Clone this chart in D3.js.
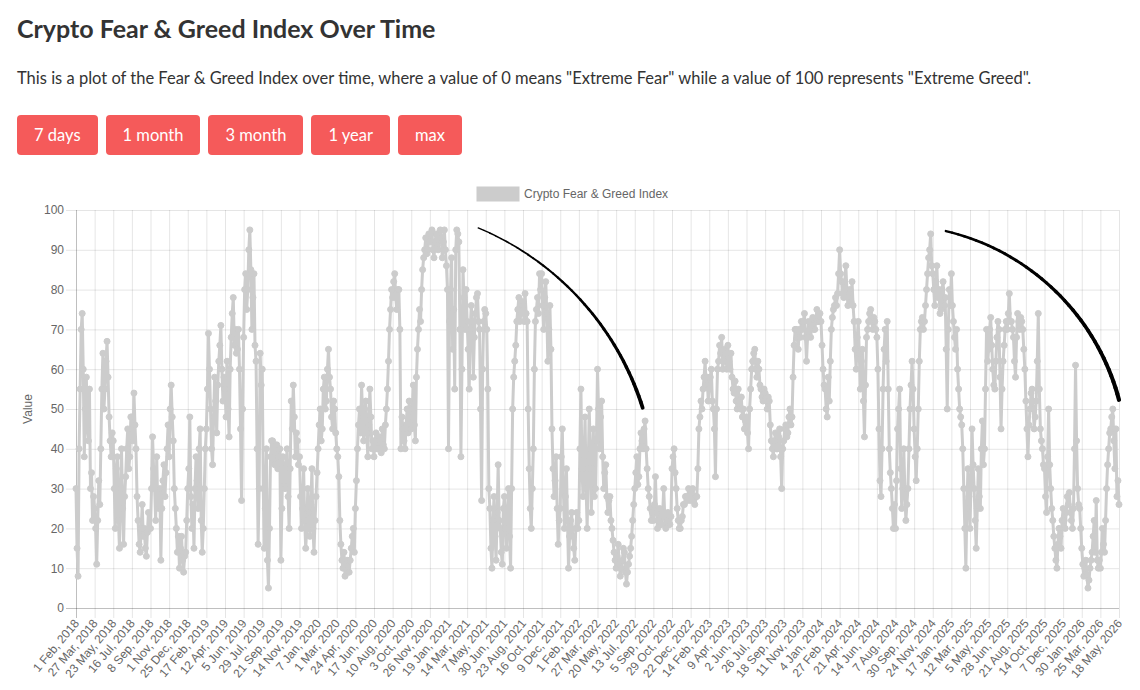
<!DOCTYPE html>
<html>
<head>
<meta charset="utf-8">
<script src="https://cdnjs.cloudflare.com/ajax/libs/d3/7.8.5/d3.min.js"></script>
<style>
body { margin: 0; background: #fff; font-family: Lato, "Open Sans", sans-serif; color: #333; }
h2 { position: absolute; left: 17px; top: 13px; margin: 0; font-size: 25px; line-height: 30px; font-weight: 700; color: #333; }
p.desc { position: absolute; left: 17px; top: 68px; margin: 0; font-size: 16.5px; line-height: 20px; color: #333; }
.btns { position: absolute; left: 17px; top: 115px; }
.btns button { float: left; height: 40px; margin-right: 8px; padding: 0 17px; border: 0; border-radius: 4px;
  background: #f55a5a; color: #fff; font-family: Lato, "Open Sans", sans-serif; font-size: 16.5px; }
#chart { position: absolute; left: 0; top: 0; }
#chart text { font-family: "Liberation Sans", Arial, sans-serif; fill: #666; font-size: 12px; }
</style>
</head>
<body>
<h2>Crypto Fear &amp; Greed Index Over Time</h2>
<p class="desc">This is a plot of the Fear &amp; Greed Index over time, where a value of 0 means "Extreme Fear" while a value of 100 represents "Extreme Greed".</p>
<div class="btns"><button>7 days</button><button>1 month</button><button>3 month</button><button>1 year</button><button>max</button></div>
<svg id="chart" width="1140" height="690"></svg>
<script>
// x axis labels, one every 54 daily readings
var tickLabels = ["1 Feb, 2018", "27 Mar, 2018", "23 May, 2018", "16 Jul, 2018", "8 Sep, 2018", "1 Nov, 2018", "25 Dec, 2018",
	"17 Feb, 2019", "12 Apr, 2019", "5 Jun, 2019", "29 Jul, 2019", "21 Sep, 2019", "14 Nov, 2019",
	"7 Jan, 2020", "1 Mar, 2020", "24 Apr, 2020", "17 Jun, 2020", "10 Aug, 2020", "3 Oct, 2020", "26 Nov, 2020",
	"19 Jan, 2021", "14 Mar, 2021", "7 May, 2021", "30 Jun, 2021", "23 Aug, 2021", "16 Oct, 2021", "9 Dec, 2021",
	"1 Feb, 2022", "27 Mar, 2022", "20 May, 2022", "13 Jul, 2022", "5 Sep, 2022", "29 Oct, 2022", "22 Dec, 2022",
	"14 Feb, 2023", "9 Apr, 2023", "2 Jun, 2023", "26 Jul, 2023", "18 Sep, 2023", "11 Nov, 2023",
	"4 Jan, 2024", "27 Feb, 2024", "21 Apr, 2024", "14 Jun, 2024", "7 Aug, 2024", "30 Sep, 2024", "24 Nov, 2024",
	"17 Jan, 2025", "12 Mar, 2025", "5 May, 2025", "28 Jun, 2025", "21 Aug, 2025", "14 Oct, 2025", "7 Dec, 2025",
	"30 Jan, 2026", "25 Mar, 2026", "18 May, 2026"];
var labelStep = 54;   // readings between two labels
var sampleStep = 3;   // readings between two values below

var yTicks = [0, 10, 20, 30, 40, 50, 60, 70, 80, 90, 100];

// index value, one every 3 readings (one row = one label interval)
var fearGreed = [
	30, 15, 8, 40, 55, 70, 74, 60, 38, 50, 58, 45, 42, 55, 30, 34, 22, 28,
	25, 20, 11, 22, 32, 26, 40, 55, 64, 50, 55, 62, 67, 58, 48, 42, 38, 44,
	42, 30, 20, 35, 38, 22, 15, 30, 40, 25, 16, 28, 33, 40, 45, 35, 38, 48,
	48, 42, 54, 46, 40, 28, 22, 16, 14, 20, 26, 18, 20, 15, 13, 19, 24, 20,
	20, 30, 43, 35, 30, 22, 38, 26, 25, 30, 12, 25, 32, 36, 28, 34, 40, 46,
	38, 50, 56, 48, 42, 30, 25, 20, 14, 18, 10, 15, 18, 12, 9, 13, 14, 22,
	30, 35, 48, 28, 20, 26, 15, 30, 38, 32, 25, 40, 45, 22, 14, 20, 30, 40,
	45, 55, 69, 60, 50, 40, 36, 48, 58, 52, 44, 56, 62, 66, 71, 60, 52, 58,
	55, 48, 62, 50, 43, 60, 68, 74, 78, 66, 70, 64, 65, 70, 60, 45, 27, 50,
	68, 80, 84, 75, 80, 90, 95, 85, 70, 78, 84, 66, 62, 40, 16, 30, 64, 56,
	60, 30, 15, 25, 40, 12, 5, 20, 38, 42, 42, 37, 36, 40, 41, 35, 38, 40,
	12, 25, 38, 32, 30, 36, 40, 28, 20, 35, 52, 45, 56, 48, 38, 44, 42, 36,
	38, 28, 20, 25, 35, 22, 15, 20, 30, 24, 18, 26, 35, 20, 14, 22, 28, 34,
	40, 46, 50, 42, 45, 55, 58, 50, 52, 60, 65, 58, 55, 48, 45, 52, 50, 44,
	40, 38, 33, 22, 16, 12, 10, 14, 8, 11, 12, 9, 9, 12, 15, 18, 20, 14,
	25, 32, 40, 46, 50, 44, 56, 48, 42, 50, 52, 44, 38, 46, 55, 48, 40, 42,
	38, 42, 44, 40, 40, 43, 42, 39, 45, 41, 40, 46, 50, 55, 62, 70, 75, 80,
	78, 82, 84, 78, 75, 80, 80, 70, 40, 48, 45, 42, 40, 46, 50, 44, 52, 48,
	45, 50, 56, 46, 42, 58, 65, 70, 75, 72, 80, 85, 88, 90, 93, 89, 90, 94,
	92, 94, 95, 90, 88, 92, 94, 91, 90, 94, 95, 93, 88, 92, 95, 90, 86, 80,
	40, 72, 80, 88, 65, 75, 55, 90, 95, 94, 92, 70, 38, 60, 85, 78, 70, 80,
	72, 65, 55, 70, 76, 72, 58, 68, 74, 78, 79, 72, 70, 50, 27, 60, 72, 75,
	74, 70, 55, 30, 25, 15, 10, 22, 28, 18, 12, 24, 36, 22, 20, 14, 11, 25,
	28, 20, 15, 25, 30, 18, 10, 30, 50, 58, 62, 66, 72, 75, 78, 72, 74, 77,
	76, 72, 79, 74, 72, 50, 35, 25, 20, 30, 40, 60, 72, 75, 78, 74, 84, 80,
	84, 76, 70, 78, 82, 74, 62, 70, 76, 65, 45, 35, 28, 32, 38, 25, 16, 22,
	25, 38, 45, 30, 20, 28, 35, 22, 10, 18, 22, 24, 18, 15, 12, 20, 24, 20,
	22, 40, 55, 35, 28, 38, 48, 30, 20, 35, 50, 40, 24, 35, 45, 28, 30, 42,
	60, 50, 40, 48, 52, 38, 30, 34, 36, 28, 24, 27, 28, 22, 20, 17, 14, 12,
	10, 13, 16, 11, 8, 10, 12, 15, 14, 9, 6, 9, 11, 13, 15, 18, 22, 26,
	30, 34, 38, 31, 33, 40, 44, 42, 40, 45, 47, 40, 35, 30, 28, 25, 22, 24,
	22, 26, 33, 24, 20, 22, 25, 21, 21, 24, 30, 23, 20, 22, 24, 21, 21, 23,
	35, 38, 40, 34, 30, 25, 22, 20, 20, 22, 23, 26, 26, 28, 28, 27, 30, 28,
	27, 29, 30, 27, 26, 28, 28, 35, 45, 48, 52, 50, 55, 58, 62, 56, 58, 52,
	55, 58, 60, 52, 50, 45, 33, 50, 60, 62, 66, 64, 68, 60, 62, 65, 64, 60,
	66, 62, 60, 64, 58, 55, 54, 57, 52, 50, 55, 52, 50, 53, 48, 50, 45, 47,
	48, 44, 40, 50, 55, 60, 62, 64, 65, 60, 58, 62, 60, 56, 55, 53, 52, 55,
	54, 52, 50, 53, 52, 46, 42, 40, 38, 42, 44, 40, 40, 43, 45, 38, 30, 40,
	42, 45, 46, 43, 44, 48, 50, 46, 48, 58, 66, 70, 70, 68, 65, 70, 68, 72,
	70, 72, 74, 68, 62, 68, 72, 70, 68, 71, 73, 70, 70, 72, 75, 72, 72, 74,
	72, 66, 60, 56, 55, 50, 48, 58, 52, 62, 70, 73, 75, 76, 78, 76, 79, 84,
	90, 84, 82, 79, 78, 82, 86, 80, 76, 79, 80, 77, 82, 76, 72, 65, 60, 68,
	72, 64, 55, 62, 65, 52, 43, 56, 68, 70, 72, 74, 75, 72, 70, 73, 72, 70,
	68, 60, 45, 32, 28, 40, 55, 65, 70, 62, 72, 55, 40, 34, 30, 25, 20, 26,
	20, 32, 45, 50, 55, 35, 25, 30, 40, 30, 22, 26, 30, 40, 50, 56, 62, 55,
	45, 38, 32, 40, 50, 62, 70, 72, 73, 70, 72, 76, 80, 84, 88, 90, 94, 86,
	84, 80, 76, 82, 86, 78, 80, 74, 75, 80, 82, 76, 78, 65, 50, 70, 80, 76,
	84, 76, 72, 68, 65, 70, 60, 55, 50, 48, 46, 40, 30, 20, 10, 25, 35, 28,
	20, 32, 45, 36, 30, 22, 15, 25, 35, 28, 25, 40, 47, 36, 40, 55, 70, 62,
	65, 70, 73, 66, 60, 56, 55, 62, 68, 72, 70, 58, 45, 55, 62, 66, 70, 72,
	70, 74, 79, 72, 72, 70, 68, 62, 58, 68, 74, 72, 70, 73, 72, 70, 65, 60,
	52, 45, 38, 46, 50, 54, 55, 50, 45, 48, 52, 62, 74, 55, 45, 42, 40, 36,
	35, 28, 24, 38, 50, 36, 30, 25, 22, 18, 15, 12, 10, 16, 20, 18, 15, 22,
	25, 22, 20, 24, 28, 26, 29, 24, 22, 20, 25, 40, 61, 42, 30, 26, 25, 20,
	15, 11, 8, 10, 12, 8, 5, 7, 10, 12, 14, 18, 22, 14, 27, 12, 10, 12,
	10, 14, 20, 16, 14, 22, 30, 36, 40, 44, 45, 48, 50, 42, 35, 45, 28, 32,
	26
];

// hand drawn arcs: [reading index, value] of start and end
var arrowStarts = [[1166, 95.5], [2522, 94.7]];
var arrowEnds = [[1643, 50.3], [3024, 52.3]];

var plotLeft = 76, plotRight = 1119, plotTop = 210, plotBottom = 608;
var gridColor = "rgba(0,0,0,0.1)";
var zeroColor = "rgba(0,0,0,0.25)";
var lineColor = "#cccccc";

var svg = d3.select("#chart");

var lastIndex = (tickLabels.length-1)*labelStep;
var x = d3.scaleLinear().domain([0, lastIndex]).range([plotLeft, plotRight]);
var y = d3.scaleLinear().domain([0, 100]).range([plotBottom, plotTop]);
var tickIdx = tickLabels.map(function(d, i) { return i*labelStep; });

// vertical grid + tick marks
var gx = svg.append("g")
.attr("transform", "translate(0,"+plotBottom+")")
.call(d3.axisBottom(x).tickValues(tickIdx).tickSizeInner(-(plotBottom-plotTop)).tickSizeOuter(0).tickFormat(""));
gx.select(".domain").remove();
gx.selectAll("line").attr("stroke", gridColor).attr("y2", -(plotBottom-plotTop)).attr("y1", 10);

// horizontal grid + tick marks
var gy = svg.append("g")
.attr("transform", "translate("+plotLeft+",0)")
.call(d3.axisLeft(y).tickValues(yTicks).tickSizeInner(10).tickSizeOuter(0).tickPadding(2));
gy.select(".domain").remove();
gy.selectAll("line").attr("stroke", gridColor).attr("x1", plotRight-plotLeft).attr("x2", -10);
gy.selectAll("text").attr("fill", "#666");

// zero lines
gy.selectAll(".tick").filter(function(d) { return d === 0; }).select("line").attr("stroke", zeroColor);
gx.selectAll(".tick").filter(function(d) { return d === 0; }).select("line").attr("stroke", zeroColor);

// x labels
var gxl = svg.append("g")
.attr("transform", "translate(0,"+plotBottom+")")
.call(d3.axisBottom(x).tickValues(tickIdx).tickSize(0).tickFormat(function(d, i) { return tickLabels[i]; }));
gxl.select(".domain").remove();
gxl.selectAll("text")
.attr("fill", "#666")
.attr("text-anchor", "end")
.attr("x", 0).attr("y", 0).attr("dy", "0.35em")
.attr("transform", "translate(0,13) rotate(-50)");

// y title
svg.append("text")
.attr("transform", "translate(32,409) rotate(-90)")
.attr("text-anchor", "middle")
.text("Value");

// legend
svg.append("rect")
.attr("x", 478).attr("y", 188)
.attr("width", 40).attr("height", 12)
.attr("fill", lineColor).attr("stroke", lineColor).attr("stroke-width", 3);
svg.append("text")
.attr("x", 524).attr("y", 194).attr("dy", "0.35em")
.text("Crypto Fear & Greed Index");

// data line
var line = d3.line()
.x(function(d, i) { return x(i*sampleStep); })
.y(function(d) { return y(d); });

svg.append("path")
.datum(fearGreed)
.attr("fill", "none")
.attr("stroke", lineColor)
.attr("stroke-width", 3)
.attr("stroke-linejoin", "round")
.attr("d", line);

svg.append("g").selectAll("circle")
.data(fearGreed)
.join("circle")
.attr("cx", function(d, i) { return x(i*sampleStep); })
.attr("cy", function(d) { return y(d); })
.attr("r", 3)
.attr("fill", lineColor)
.attr("stroke", lineColor)
.attr("stroke-width", 1);

// black arcs, tapered, drawn as short segments
var turns = [50, 62];
var widths = [[1.3, 3.8], [2.4, 4.2]];
arrowStarts.forEach(function(s, k) {
	var e = arrowEnds[k];
	var p0 = [x(s[0]), y(s[1])], p1 = [x(e[0]), y(e[1])];
	var dx = p1[0]-p0[0], dy = p1[1]-p0[1];
	var c = Math.sqrt(dx*dx+dy*dy);
	var th = turns[k]*Math.PI/180;
	var r = c/(2*Math.sin(th/2));
	var d = Math.sqrt(r*r-c*c/4);
	var m = [(p0[0]+p1[0])/2, (p0[1]+p1[1])/2];
	var n = [-dy/c, dx/c];
	var ctr = [m[0]+d*n[0], m[1]+d*n[1]];
	var a0 = Math.atan2(p0[1]-ctr[1], p0[0]-ctr[0]);
	var a1 = Math.atan2(p1[1]-ctr[1], p1[0]-ctr[0]);
	var N = 40;
	var g = svg.append("g");
	for (var i = 0; i < N; i++) {
		var t0 = i/N, t1 = (i+1)/N;
		var b0 = a0+(a1-a0)*t0, b1 = a0+(a1-a0)*t1;
		g.append("path")
		.attr("d", "M"+[ctr[0]+r*Math.cos(b0), ctr[1]+r*Math.sin(b0)]+" L"+[ctr[0]+r*Math.cos(b1), ctr[1]+r*Math.sin(b1)])
		.attr("stroke", "#000")
		.attr("stroke-linecap", "round")
		.attr("stroke-width", widths[k][0]+(widths[k][1]-widths[k][0])*t0);
	}
});
</script>
</body>
</html>
